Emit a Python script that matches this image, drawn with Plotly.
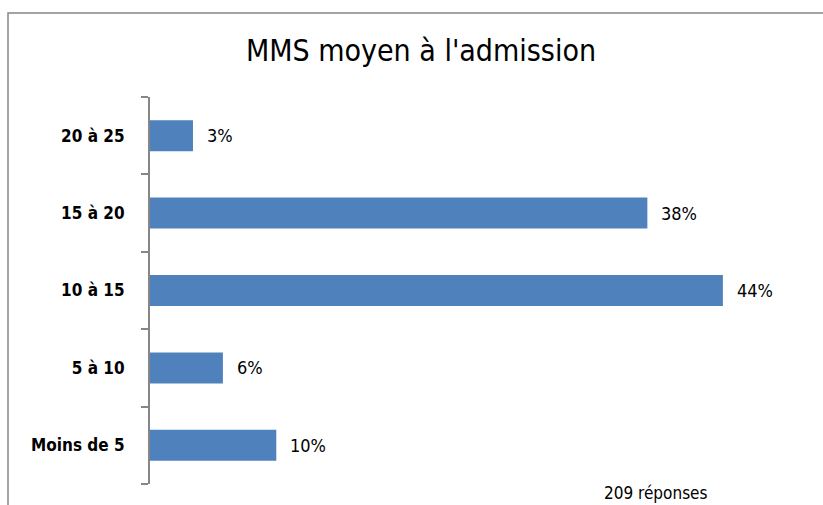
import plotly.graph_objects as go

categories = ["Moins de 5", "5 à 10", "10 à 15", "15 à 20", "20 à 25"]
values = [9.7, 5.6, 44.0, 38.2, 3.3]
labels = ["10%", "6%", "44%", "38%", "3%"]
title = "MMS moyen à l'admission"
note = "209 réponses"

FONT = "DejaVu Sans Condensed, Liberation Sans, Arial"
BAR = "#4F81BD"
GREY = "#868686"

fig = go.Figure()
fig.add_trace(go.Bar(
    x=values, y=categories, orientation="h",
    marker=dict(color=BAR, line=dict(width=0)),
    width=0.4, hoverinfo="skip",
))

for v, c, t in zip(values, categories, labels):
    fig.add_annotation(x=v, y=c, text=t, showarrow=False, xanchor="left",
                       xshift=12, font=dict(family=FONT, size=18, color="#000"))

fig.add_annotation(xref="paper", yref="paper", x=(656 - 150) / 651,
                   y=(484 - 493) / 387, yanchor="middle",
                   xanchor="center", text=note, showarrow=False,
                   font=dict(family=FONT, size=17, color="#000"))

# outer chart frame
fig.add_shape(type="rect", xref="paper", yref="paper",
              x0=(8 - 150) / 651, x1=(830 - 150) / 651,
              y0=(484 - 520) / 387, y1=(484 - 13) / 387,
              line=dict(color=GREY, width=1.5), layer="below")

fig.update_layout(
    width=823, height=505,
    margin=dict(l=150, r=22, t=97, b=21),
    paper_bgcolor="white", plot_bgcolor="white",
    showlegend=False,
    title=dict(text=title, x=421 / 823, xref="container", xanchor="center",
               y=(505 - 50) / 505, yanchor="middle",
               font=dict(family=FONT, size=30, color="#000")),
    xaxis=dict(range=[0, 50], visible=False, fixedrange=True),
    yaxis=dict(type="category", categoryorder="array", categoryarray=categories,
               range=[-0.5, 4.5],
               showline=True, linecolor=GREY, linewidth=2,
               ticks="outside", tickson="boundaries", ticklen=7, tickcolor=GREY,
               tickwidth=1.5, showgrid=False, zeroline=False,
               ticklabelstandoff=20,
               tickfont=dict(family=FONT, size=17, color="#000", weight="bold")),
)

fig.write_html("out.html")
